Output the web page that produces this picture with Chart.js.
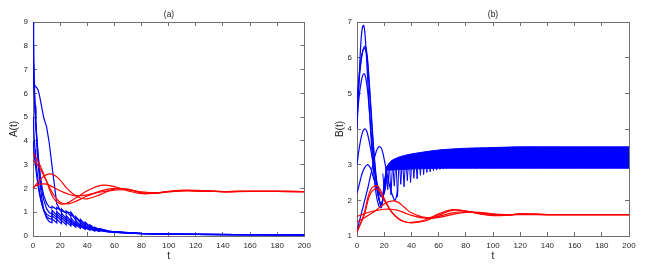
<!DOCTYPE html>
<html>
<head>
<meta charset="utf-8">
<script src="https://cdn.jsdelivr.net/npm/chart.js@4"></script>
<style>
  body { margin: 0; background: #fff; }
  #wrap { position: relative; width: 647px; height: 267px; font-family: "Liberation Sans", Arial, sans-serif; }
  .panel { position: absolute; top: 0; height: 267px; }
  .ttl { position: absolute; top: 9px; font-size: 8.5px; color: #222; transform: translateX(-50%); }
</style>
</head>
<body>
<div id="wrap">
  <div class="panel" style="left:0;width:320px"><canvas id="chartA"></canvas></div>
  <div class="panel" style="left:320px;width:327px"><canvas id="chartB"></canvas></div>
  <div class="ttl" style="left:169px">(a)</div>
  <div class="ttl" style="left:493px">(b)</div>
</div>
<script>
// time grid for panel (a) blue curves, pulse instants are listed twice (jump)
const tAblue = [0, 0.5, 1, 1.5, 2, 3, 4, 5, 6, 7, 8, 10, 12,
  14, 14, 17.5, 17.5, 21, 21, 24.5, 24.5, 28, 28, 31.5, 31.5, 35, 35, 38.5, 38.5, 42, 42, 45.5, 45.5, 49, 49,
  55, 60, 70, 80, 100, 120, 150, 200];

const aBlue1 = [9, 7.6, 6.4, 5.5, 4.8, 3.7, 2.9, 2.3, 1.8, 1.4, 1.1, 0.75, 0.6,
  0.56, 0.72, 0.55, 0.7, 0.52, 0.66, 0.47, 0.6, 0.42, 0.54, 0.37, 0.47, 0.32, 0.41, 0.28, 0.35, 0.24, 0.3, 0.21, 0.26, 0.19, 0.23,
  0.17, 0.15, 0.12, 0.1, 0.08, 0.07, 0.06, 0.05];
const aBlue2 = [8.0, 7.0, 6.1, 5.4, 4.8, 3.9, 3.2, 2.6, 2.1, 1.75, 1.5, 1.15, 0.98,
  0.92, 1.08, 0.88, 1.03, 0.82, 0.96, 0.73, 0.87, 0.63, 0.76, 0.54, 0.65, 0.46, 0.55, 0.38, 0.46, 0.32, 0.38, 0.27, 0.32, 0.23, 0.27,
  0.2, 0.17, 0.13, 0.1, 0.08, 0.07, 0.06, 0.05];
const aBlue3 = [7.2, 6.5, 5.9, 5.3, 4.8, 4.0, 3.3, 2.75, 2.3, 1.95, 1.7, 1.38, 1.22,
  1.17, 1.25, 1.12, 1.2, 1.05, 1.14, 0.95, 1.05, 0.82, 0.93, 0.68, 0.78, 0.55, 0.63, 0.45, 0.52, 0.37, 0.43, 0.3, 0.35, 0.26, 0.3,
  0.22, 0.18, 0.14, 0.11, 0.08, 0.07, 0.06, 0.05];
const aBlue4 = [6.55, 6.45, 6.38, 6.32, 6.28, 6.22, 6.1, 5.85, 5.55, 5.25, 4.95, 4.6, 3.9,
  2.95, 2.95, 1.35, 1.35, 1.0, 1.05, 0.98, 1.03, 0.95, 1.0, 0.72, 0.82, 0.6, 0.7, 0.5, 0.58, 0.4, 0.47, 0.32, 0.37, 0.27, 0.31,
  0.22, 0.18, 0.14, 0.11, 0.08, 0.07, 0.06, 0.05];
const aBlue5 = [5.0, 4.5, 4.05, 3.65, 3.3, 2.7, 2.2, 1.8, 1.5, 1.25, 1.05, 0.82, 0.73,
  0.71, 0.86, 0.69, 0.83, 0.64, 0.77, 0.57, 0.69, 0.5, 0.6, 0.43, 0.52, 0.37, 0.44, 0.31, 0.37, 0.27, 0.32, 0.23, 0.27, 0.2, 0.23,
  0.18, 0.16, 0.12, 0.1, 0.08, 0.07, 0.06, 0.05];
const aBlue6 = [4.0, 3.7, 3.4, 3.1, 2.85, 2.4, 2.0, 1.7, 1.45, 1.25, 1.1, 0.92, 0.84,
  0.8, 0.96, 0.78, 0.93, 0.73, 0.86, 0.65, 0.77, 0.57, 0.67, 0.48, 0.57, 0.41, 0.48, 0.35, 0.41, 0.3, 0.35, 0.25, 0.29, 0.22, 0.25,
  0.19, 0.16, 0.13, 0.1, 0.08, 0.07, 0.06, 0.05];

// red curves (both panels share this time grid)
const tRed = [0, 5, 10, 15, 20, 25, 30, 35, 40, 50, 60, 70, 80, 90, 100, 110, 120, 140, 160, 200];
const aRed1 = [3.5, 3.0, 2.3, 1.6, 1.35, 1.38, 1.55, 1.72, 1.9, 2.13, 2.08, 1.9, 1.78, 1.8, 1.88, 1.92, 1.9, 1.86, 1.88, 1.87];
const aRed2 = [3.2, 2.85, 2.3, 1.75, 1.42, 1.35, 1.42, 1.55, 1.68, 1.9, 2.0, 1.95, 1.82, 1.8, 1.86, 1.9, 1.9, 1.87, 1.88, 1.87];
const aRed3 = [2.0, 2.35, 2.58, 2.58, 2.35, 2.0, 1.75, 1.6, 1.56, 1.75, 1.97, 1.97, 1.82, 1.8, 1.86, 1.92, 1.92, 1.87, 1.88, 1.87];
const aRed4 = [2.05, 2.18, 2.18, 2.05, 1.9, 1.78, 1.7, 1.7, 1.73, 1.85, 1.93, 1.95, 1.86, 1.82, 1.86, 1.9, 1.9, 1.87, 1.88, 1.87];

const bRed1 = [1.1, 1.6, 2.3, 2.4, 2.05, 1.7, 1.5, 1.4, 1.38, 1.45, 1.62, 1.74, 1.7, 1.62, 1.57, 1.58, 1.62, 1.6, 1.6, 1.6];
const bRed2 = [1.15, 1.55, 2.2, 2.32, 2.0, 1.7, 1.5, 1.4, 1.37, 1.42, 1.58, 1.72, 1.7, 1.63, 1.58, 1.58, 1.62, 1.6, 1.6, 1.6];
const bRed3 = [1.4, 1.5, 1.62, 1.75, 1.9, 1.98, 1.95, 1.8, 1.65, 1.52, 1.55, 1.65, 1.68, 1.65, 1.6, 1.59, 1.61, 1.6, 1.6, 1.6];
const bRed4 = [1.55, 1.62, 1.68, 1.72, 1.75, 1.75, 1.72, 1.65, 1.58, 1.5, 1.52, 1.6, 1.66, 1.66, 1.62, 1.6, 1.6, 1.6, 1.6, 1.6];

// panel (b) blue transients before they join the oscillation
const tBblue = [0, 1, 2, 3, 4, 5, 6, 7, 8, 10, 12, 14, 16, 18, 20, 22, 24, 26, 28, 30];
const bBlue1 = [4.0, 4.9, 5.8, 6.5, 6.85, 6.9, 6.6, 6.0, 5.3, 3.95, 2.9, 2.2, 1.85, 1.8, 2.5, 2.9, null, null, null, null];
const bBlue2 = [4.6, 5.1, 5.55, 5.9, 6.15, 6.28, 6.32, 6.2, 5.85, 4.75, 3.6, 2.7, 2.1, 1.85, 2.3, 2.8, null, null, null, null];
const bBlue3 = [4.8, 5.25, 5.65, 5.95, 6.15, 6.25, 6.25, 6.1, 5.75, 4.6, 3.5, 2.6, 2.05, 1.85, 2.4, 2.85, null, null, null, null];
const bBlue4 = [4.3, 4.7, 5.05, 5.3, 5.48, 5.55, 5.5, 5.3, 5.0, 4.1, 3.2, 2.5, 2.05, 1.9, 2.4, 2.85, null, null, null, null];
const bBlue5 = [3.0, 3.3, 3.55, 3.75, 3.9, 3.98, 4.0, 3.95, 3.82, 3.45, 3.0, 2.6, 2.3, 2.1, 2.3, 2.7, null, null, null, null];
const bBlue6 = [2.2, 2.35, 2.5, 2.65, 2.78, 2.87, 2.94, 2.98, 3.0, 2.9, 2.65, 2.4, 2.2, 2.1, 2.2, 2.6, null, null, null, null];
const bBlue7 = [1.15, 1.3, 1.45, 1.6, 1.75, 1.9, 2.05, 2.2, 2.35, 2.7, 3.05, 3.35, 3.5, 3.45, 3.15, 2.75, 2.4, 2.15, 2.0, 2.3];

// oscillation: early spikes, then a dense band (upper / lower envelope)
const tSpike = [19.0, 20.2, 21.4, 22.6, 23.8, 25.0, 26.2, 27.4, 28.6, 29.8, 31.0, 32.2, 33.4, 34.6, 35.8, 37.0,
  38.2, 39.4, 40.6, 41.8, 43.0, 44.2, 45.4, 46.6, 47.8, 49.0, 50.2, 51.4, 52.6, 53.8, 55.0, 56.2, 57.4, 58.6,
  59.8, 61.0, 62.2, 63.4, 64.6, 65.8, 67.0];
const bSpike = [2.75, 2.2, 2.95, 2.3, 3.05, 2.15, 3.1, 2.4, 3.15, 2.1, 3.2, 2.45, 3.22, 2.38, 3.25, 2.55,
  3.27, 2.5, 3.3, 2.62, 3.3, 2.6, 3.33, 2.7, 3.35, 2.72, 3.36, 2.78, 3.38, 2.8, 3.39, 2.83, 3.4, 2.85,
  3.41, 2.87, 3.42, 2.88, 3.43, 2.89, 3.43];
const tBand = [21, 25, 30, 35, 40, 50, 60, 70, 80, 100, 120, 150, 200];
const bandHi = [2.9, 3.1, 3.2, 3.26, 3.3, 3.36, 3.41, 3.44, 3.46, 3.48, 3.5, 3.5, 3.5];
const bandLo = [2.85, 2.85, 2.86, 2.87, 2.88, 2.89, 2.9, 2.9, 2.9, 2.9, 2.9, 2.9, 2.9];

const BLUE = '#0000ff';
const RED = '#ff0000';
const AXIS = '#6e6e6e';
const TEXT = '#262626';

function pts(ts, ys) {
    return ts.map((t, i) => ({ x: t, y: ys[i] }));
}

function line(ts, ys, color, tension, extra) {
    return Object.assign({
        data: pts(ts, ys),
        borderColor: color,
        backgroundColor: color,
        borderWidth: 1.2,
        tension: tension,
        pointRadius: 0,
        fill: false,
        xAxisID: 'x',
        yAxisID: 'y'
    }, extra || {});
}

function makeChart(id, datasets, yMin, yMax, yWidth, yTitle, yTitlePad, padRight) {
    const tickFont = { family: '"Liberation Sans", Arial, sans-serif', size: 8 };
    const titleFont = { family: '"Liberation Sans", Arial, sans-serif', size: 10 };
    const grid = { drawOnChartArea: false, tickLength: -4, color: AXIS, lineWidth: 1 };
    const border = { display: true, color: AXIS, width: 1 };
    return new Chart(document.getElementById(id), {
        type: 'line',
        data: { datasets: datasets },
        options: {
            responsive: true,
            maintainAspectRatio: false,
            animation: false,
            layout: { padding: { left: 0, right: padRight, top: 22, bottom: 0 } },
            plugins: { legend: { display: false }, tooltip: { enabled: false } },
            scales: {
                x: {
                    type: 'linear', min: 0, max: 200,
                    ticks: { stepSize: 20, padding: 9, font: tickFont, color: TEXT, maxRotation: 0 },
                    grid: grid, border: border,
                    title: { display: true, text: 't', font: titleFont, color: TEXT, padding: { top: 0, bottom: 5 } },
                    afterFit: s => { s.height = 31; }
                },
                x2: {
                    type: 'linear', position: 'top', min: 0, max: 200,
                    ticks: { stepSize: 20, display: false },
                    grid: grid, border: border,
                    afterFit: s => { s.height = 0; }
                },
                y: {
                    type: 'linear', min: yMin, max: yMax,
                    ticks: { stepSize: 1, padding: 9, font: tickFont, color: TEXT },
                    grid: grid, border: border,
                    title: { display: true, text: yTitle, font: titleFont, color: TEXT, padding: { top: yTitlePad, bottom: 0 } },
                    afterFit: s => { s.width = yWidth; }
                },
                y2: {
                    type: 'linear', position: 'right', min: yMin, max: yMax,
                    ticks: { stepSize: 1, display: false },
                    grid: grid, border: border,
                    afterFit: s => { s.width = 0; }
                }
            }
        }
    });
}

// Panel (a)
makeChart('chartA', [
    line(tRed, aRed1, RED, 0.4),
    line(tRed, aRed2, RED, 0.4),
    line(tRed, aRed3, RED, 0.4),
    line(tRed, aRed4, RED, 0.4),
    line(tAblue, aBlue1, BLUE, 0),
    line(tAblue, aBlue2, BLUE, 0),
    line(tAblue, aBlue3, BLUE, 0),
    line(tAblue, aBlue4, BLUE, 0),
    line(tAblue, aBlue5, BLUE, 0),
    line(tAblue, aBlue6, BLUE, 0)
], 0, 9, 33, 'A(t)', 8, 14);

// Panel (b)
makeChart('chartB', [
    line(tRed, bRed1, RED, 0.4),
    line(tRed, bRed2, RED, 0.4),
    line(tRed, bRed3, RED, 0.4),
    line(tRed, bRed4, RED, 0.4),
    line(tSpike, bSpike, BLUE, 0, { borderWidth: 1 }),
    line(tBand, bandLo, BLUE, 0.3, { borderWidth: 1 }),
    line(tBand, bandHi, BLUE, 0.3, { borderWidth: 1, fill: '-1' }),
    line(tBblue, bBlue1, BLUE, 0.4),
    line(tBblue, bBlue2, BLUE, 0.4),
    line(tBblue, bBlue3, BLUE, 0.4),
    line(tBblue, bBlue4, BLUE, 0.4),
    line(tBblue, bBlue5, BLUE, 0.4),
    line(tBblue, bBlue6, BLUE, 0.4),
    line(tBblue, bBlue7, BLUE, 0.4)
], 1, 7, 37, 'B(t)', 14, 18);
</script>
</body>
</html>
